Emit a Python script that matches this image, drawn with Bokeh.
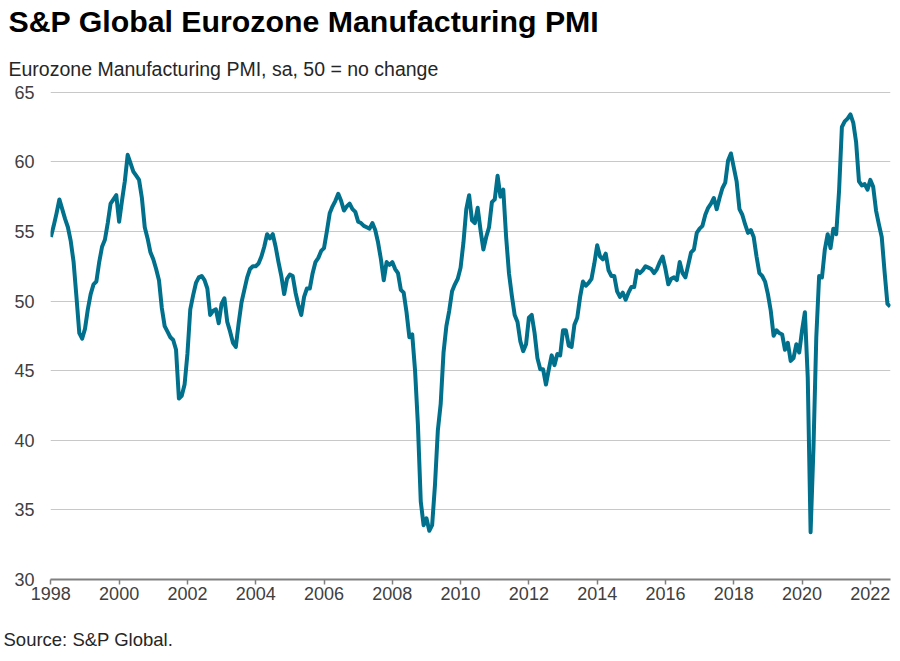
from bokeh.plotting import figure
from bokeh.models import Range1d, FixedTicker, Title, LinearAxis
from bokeh.embed import file_html
from bokeh.resources import INLINE

# Monthly Eurozone Manufacturing PMI, Jan 1998 - Aug 2022 (sa)
pmi_1998 = [54.6, 55.4, 56.3, 57.3, 56.6, 55.9, 55.3, 54.3, 52.8, 50.3, 47.7, 47.3]
pmi_1999 = [48.0, 49.4, 50.5, 51.2, 51.4, 52.8, 53.9, 54.4, 55.6, 57.0, 57.3, 57.6]
pmi_2000 = [55.7, 57.2, 58.6, 60.5, 59.9, 59.3, 59.0, 58.7, 57.4, 55.3, 54.5, 53.5]
pmi_2001 = [53.0, 52.3, 51.5, 49.5, 48.2, 47.8, 47.4, 47.2, 46.5, 43.0, 43.2, 44.0]
pmi_2002 = [46.2, 49.4, 50.4, 51.3, 51.7, 51.8, 51.5, 50.9, 49.0, 49.3, 49.4, 48.4]
pmi_2003 = [49.8, 50.2, 48.5, 47.8, 47.0, 46.7, 48.4, 49.9, 50.8, 51.7, 52.3, 52.5]
pmi_2004 = [52.5, 52.7, 53.2, 53.9, 54.8, 54.5, 54.8, 53.9, 52.8, 51.8, 50.5, 51.6]
pmi_2005 = [51.9, 51.8, 50.6, 49.7, 49.0, 50.3, 50.9, 50.9, 52.0, 52.8, 53.1, 53.6]
pmi_2006 = [53.8, 55.0, 56.3, 56.8, 57.2, 57.7, 57.2, 56.5, 56.8, 57.0, 56.6, 56.4]
pmi_2007 = [55.7, 55.6, 55.4, 55.3, 55.2, 55.6, 55.1, 54.2, 53.0, 51.5, 52.8, 52.6]
pmi_2008 = [52.8, 52.3, 52.0, 50.8, 50.6, 49.2, 47.4, 47.6, 45.0, 41.1, 35.6, 33.9]
pmi_2009 = [34.4, 33.5, 33.9, 36.8, 40.7, 42.6, 46.3, 48.2, 49.3, 50.7, 51.2, 51.6]
pmi_2010 = [52.4, 54.2, 56.6, 57.6, 55.8, 55.6, 56.7, 55.1, 53.7, 54.6, 55.3, 57.1]
pmi_2011 = [57.3, 59.0, 57.5, 58.0, 54.6, 52.0, 50.4, 49.0, 48.5, 47.1, 46.4, 46.9]
pmi_2012 = [48.8, 49.0, 47.7, 45.9, 45.1, 45.1, 44.0, 45.1, 46.1, 45.4, 46.2, 46.1]
pmi_2013 = [47.9, 47.9, 46.8, 46.7, 48.3, 48.8, 50.3, 51.4, 51.1, 51.3, 51.6, 52.7]
pmi_2014 = [54.0, 53.2, 53.0, 53.4, 52.2, 51.8, 51.8, 50.7, 50.3, 50.6, 50.1, 50.6]
pmi_2015 = [51.0, 51.0, 52.2, 52.0, 52.2, 52.5, 52.4, 52.3, 52.0, 52.3, 52.8, 53.2]
pmi_2016 = [52.3, 51.2, 51.6, 51.7, 51.5, 52.8, 52.0, 51.7, 52.6, 53.5, 53.7, 54.9]
pmi_2017 = [55.2, 55.4, 56.2, 56.7, 57.0, 57.4, 56.6, 57.4, 58.1, 58.5, 60.1, 60.6]
pmi_2018 = [59.6, 58.6, 56.6, 56.2, 55.5, 54.9, 55.1, 54.6, 53.2, 52.0, 51.8, 51.4]
pmi_2019 = [50.5, 49.3, 47.5, 47.9, 47.7, 47.6, 46.5, 47.0, 45.7, 45.9, 46.9, 46.3]
pmi_2020 = [47.9, 49.2, 44.5, 33.4, 39.4, 47.4, 51.8, 51.7, 53.7, 54.8, 53.8, 55.2]
pmi_2021 = [54.8, 57.9, 62.5, 62.9, 63.1, 63.4, 62.8, 61.4, 58.6, 58.3, 58.4, 58.0]
pmi_2022 = [58.7, 58.2, 56.5, 55.5, 54.6, 52.1, 49.8, 49.6]

first_year = 1998
year_ticks = [1998, 2000, 2002, 2004, 2006, 2008, 2010, 2012, 2014, 2016, 2018, 2020, 2022]
value_ticks = [30, 35, 40, 45, 50, 55, 60, 65]

title_text = "S&P Global Eurozone Manufacturing PMI"
subtitle_text = "Eurozone Manufacturing PMI, sa, 50 = no change"
source_text = "Source: S&P Global."

pmi = (pmi_1998 + pmi_1999 + pmi_2000 + pmi_2001 + pmi_2002 + pmi_2003 + pmi_2004
       + pmi_2005 + pmi_2006 + pmi_2007 + pmi_2008 + pmi_2009 + pmi_2010 + pmi_2011
       + pmi_2012 + pmi_2013 + pmi_2014 + pmi_2015 + pmi_2016 + pmi_2017 + pmi_2018
       + pmi_2019 + pmi_2020 + pmi_2021 + pmi_2022)
dates = [first_year + i / 12.0 for i in range(len(pmi))]

FONT = "Liberation Sans"

p = figure(width=900, height=661, output_backend="svg", toolbar_location=None,
           title=None,
           x_range=Range1d(1997.99, 2022.59), y_range=Range1d(30, 65.05),
           min_border_left=50, min_border_right=10, min_border_top=91,
           min_border_bottom=82)
p.outline_line_color = None
p.background_fill_color = "white"
p.border_fill_color = "white"

p.line(dates, pmi, line_width=4, line_color="#00708C", line_join="round")

# axes
p.xaxis.ticker = FixedTicker(ticks=year_ticks)
p.xaxis.axis_line_color = "#808080"
p.xaxis.axis_line_width = 2
p.xaxis.major_tick_line_color = "#808080"
p.xaxis.major_tick_line_width = 1.5
p.xaxis.major_tick_out = 5
p.xaxis.major_tick_in = 0
p.xaxis.minor_tick_line_color = None
p.xaxis.major_label_standoff = 2
p.xaxis.major_label_text_font = FONT
p.xaxis.major_label_text_font_size = "18px"
p.xaxis.major_label_text_color = "#404040"

p.yaxis.ticker = FixedTicker(ticks=value_ticks)
p.yaxis.axis_line_color = None
p.yaxis.major_tick_line_color = None
p.yaxis.minor_tick_line_color = None
p.yaxis.major_tick_out = 0
p.yaxis.major_tick_in = 0
p.yaxis.major_label_standoff = 16
p.yaxis.major_label_text_font = FONT
p.yaxis.major_label_text_font_size = "18px"
p.yaxis.major_label_text_color = "#404040"

p.xgrid.visible = False
p.ygrid.grid_line_color = "#c8c8c8"
p.ygrid.grid_line_width = 1

SPACER_AT = 2019  # an x position with no text near it in the side panels


def spacer(size):
    # an unlabelled white tick, used only as vertical spacing in a side panel
    return LinearAxis(ticker=FixedTicker(ticks=[SPACER_AT]), axis_line_color=None,
                      major_tick_line_color="white", major_tick_line_width=0.5,
                      minor_tick_line_color=None,
                      major_tick_in=0, major_tick_out=size,
                      minor_tick_in=0, minor_tick_out=0,
                      major_label_standoff=0,
                      major_label_overrides={SPACER_AT: ""},
                      major_label_text_font_size="0px")


# texts above the plot (first added = closest to the plot)
p.add_layout(spacer(12), "above")
p.add_layout(Title(text=subtitle_text, align="left", offset=-42,
                   vertical_align="bottom", standoff=0,
                   text_font=FONT, text_font_size="19.5px", text_font_style="normal",
                   text_color="#262626"), "above")
p.add_layout(spacer(16), "above")
p.add_layout(Title(text=title_text, align="left", offset=-42,
                   vertical_align="top", standoff=0,
                   text_font=FONT, text_font_size="30.3px", text_font_style="bold",
                   text_color="#000000"), "above")

# source note below the x axis
p.add_layout(spacer(24), "below")
p.add_layout(Title(text=source_text, align="left", offset=-47,
                   vertical_align="bottom", standoff=0,
                   text_font=FONT, text_font_size="18.5px", text_font_style="normal",
                   text_color="#262626"), "below")

open("out.html", "w").write(file_html(p, INLINE))
